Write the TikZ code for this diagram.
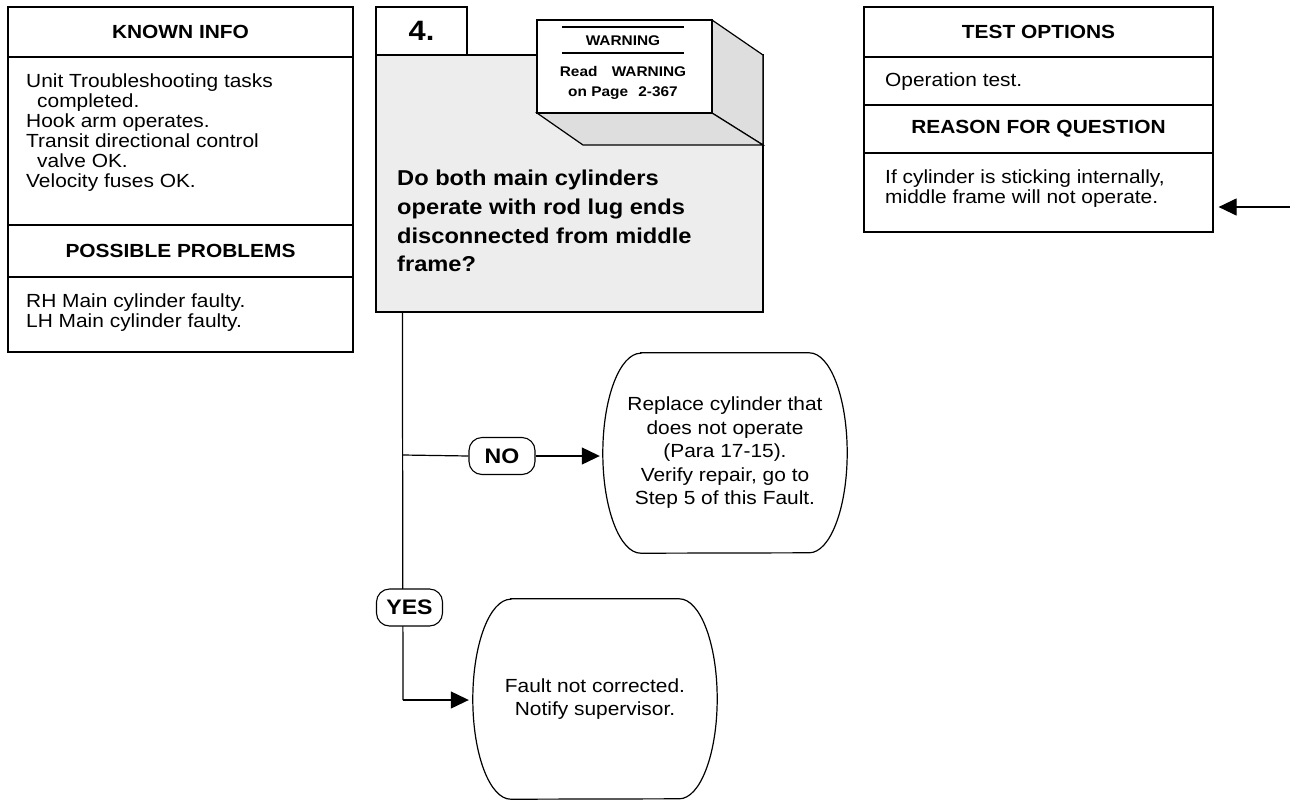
\documentclass[tikz,border=0pt]{standalone}
\usepackage{fontspec}
\setmainfont[FakeStretch=1.1]{Liberation Sans}
\usetikzlibrary{arrows.meta}
\newdimen\unitsize
\setlength{\unitsize}{1pt}
\definecolor{qgray}{gray}{0.93}
\definecolor{sidegray}{gray}{0.87}
\newcommand\notefont{\fontsize{19}{20}\selectfont}
\newcommand\headfont{\fontsize{19}{20}\selectfont\bfseries}
\newcommand\questfont{\fontsize{21.5}{28.7}\selectfont\bfseries}
\newcommand\stepfont{\fontsize{28}{30}\selectfont\bfseries}
\newcommand\warnfont{\fontsize{14}{20}\selectfont\bfseries}
\newcommand\answerfont{\fontsize{21}{22}\selectfont\bfseries}
\newcommand\finalfont{\fontsize{19}{23.5}\selectfont}
% outline of a final box: flat top and bottom, bulging sides
\newcommand\finalshape[1]{\draw[flow] ([xshift=38pt]#1.north west) -- ([xshift=-38pt]#1.north east)
  arc[start angle=90, end angle=-90, x radius=38pt, y radius=100pt] -- ([xshift=38pt]#1.south west)
  arc[start angle=270, end angle=90, x radius=38pt, y radius=100pt] -- cycle;}

\begin{document}
\begin{tikzpicture}[x=\unitsize,y=-\unitsize,baseline=0]
\tikzset{cell/.style={draw, line width=1.2pt, inner sep=0pt, font=\headfont}}%
\tikzset{note/.style={inner sep=0pt, align=left, font=\notefont}}%
\tikzset{flow/.style={line width=1.2pt}}%
\tikzset{arrow/.style={flow, -{Triangle[length=18pt,width=17pt]}}}%
\tikzset{answer/.style={draw, fill=white, line width=1.1pt, rounded corners=13pt, minimum width=66pt, minimum height=37pt, inner sep=0pt, font=\answerfont}}%
\tikzset{finalbox/.style={minimum width=244pt, minimum height=200pt, inner sep=0pt, align=center, font=\finalfont}}%
\useasboundingbox (0,0) rectangle (1290,801);
% known info column
\node[cell, minimum width=345pt, minimum height=50pt] (knownHead) at (180.5,32) {KNOWN INFO};
\node[cell, minimum width=345pt, minimum height=168pt] (knownBody) at (180.5,141) {};
\node[cell, minimum width=345pt, minimum height=52pt] (probHead) at (180.5,251) {POSSIBLE PROBLEMS};
\node[cell, minimum width=345pt, minimum height=75pt] (probBody) at (180.5,314.5) {};
\node[note, anchor=west] (knownText) at (26,133) {Unit Troubleshooting tasks\\\hspace*{11pt}completed.\\Hook arm operates.\\Transit directional control\\\hspace*{11pt}valve OK.\\Velocity fuses OK.};
\node[note, anchor=west] (probText) at (26,313) {RH Main cylinder faulty.\\LH Main cylinder faulty.};
% step 4
\node[cell, minimum width=91pt, minimum height=48pt, font=\stepfont] (stepNum) at (421.5,31) {4.};
\node[draw, fill=qgray, line width=1.2pt, minimum width=387pt, minimum height=257pt] (question) at (569.5,183.5) {};
\node[note, font=\questfont, anchor=west] (questText) at (397,221) {Do both main cylinders\\operate with rod lug ends\\disconnected from middle\\frame?};
% warning box and its shaded faces
\filldraw[fill=sidegray, line width=1.2pt] (712,20) -- (763,55) -- (763,145) -- (712,113) -- cycle;
\filldraw[fill=sidegray, line width=1.2pt] (537,113) -- (583,145) -- (763,145) -- (712,113) -- cycle;
\node[draw, fill=white, line width=1.2pt, minimum width=175pt, minimum height=93pt] (warn) at (624.5,66.5) {};
\draw[line width=1.6pt] (562,27) -- (684,27);
\draw[line width=1.6pt] (562,53) -- (684,53);
\node[font=\warnfont] (warnHead) at (623,41) {WARNING};
\node[font=\warnfont, align=center, inner sep=0pt] (warnText) at (623,83) {Read\hspace{10pt} WARNING\\on Page\hspace{6pt} 2-367};
% test options column
\node[cell, minimum width=349pt, minimum height=50pt] (testHead) at (1038.5,32) {TEST OPTIONS};
\node[cell, minimum width=349pt, minimum height=48pt] (testBody) at (1038.5,81) {};
\node[cell, minimum width=349pt, minimum height=48pt] (reasonHead) at (1038.5,129) {REASON FOR QUESTION};
\node[cell, minimum width=349pt, minimum height=79pt] (reasonBody) at (1038.5,192.5) {};
\node[note, anchor=west] (testText) at (885,82) {Operation test.};
\node[note, anchor=west] (reasonText) at (885,189) {If cylinder is sticking internally,\\middle frame will not operate.};
\coordinate (entry) at (1290,207);
\draw[arrow, shorten >=5pt] (entry) -- (reasonBody.east |- entry);
% final boxes
\node[finalbox] (noEnd) at (725,453) {Replace cylinder that\\does not operate\\(Para 17-15).\\Verify repair, go to\\Step 5 of this Fault.};
\node[finalbox] (yesEnd) at (595,699) {Fault not corrected.\\Notify supervisor.};
\finalshape{noEnd}
\finalshape{yesEnd}
% decision lines
\coordinate (trunkTop) at ([xshift=27pt]question.south west);
\coordinate (noFork) at (403,455);
\coordinate (yesTurn) at (403,700);
\draw[flow] (trunkTop) -- (yesTurn);
\node[answer] (noLbl) at (502,456) {NO};
\node[answer] (yesLbl) at (409.5,607.5) {YES};
\draw[flow] (noFork) -- (noLbl.west);
\draw[arrow, shorten >=3pt] (noLbl.east) -- (noLbl.east -| noEnd.west);
\draw[arrow, shorten >=4pt] (yesTurn) -- (yesEnd.west |- yesTurn);
%\draw[flow] (noFork) -- (noEnd.west);
\end{tikzpicture}
\end{document}
